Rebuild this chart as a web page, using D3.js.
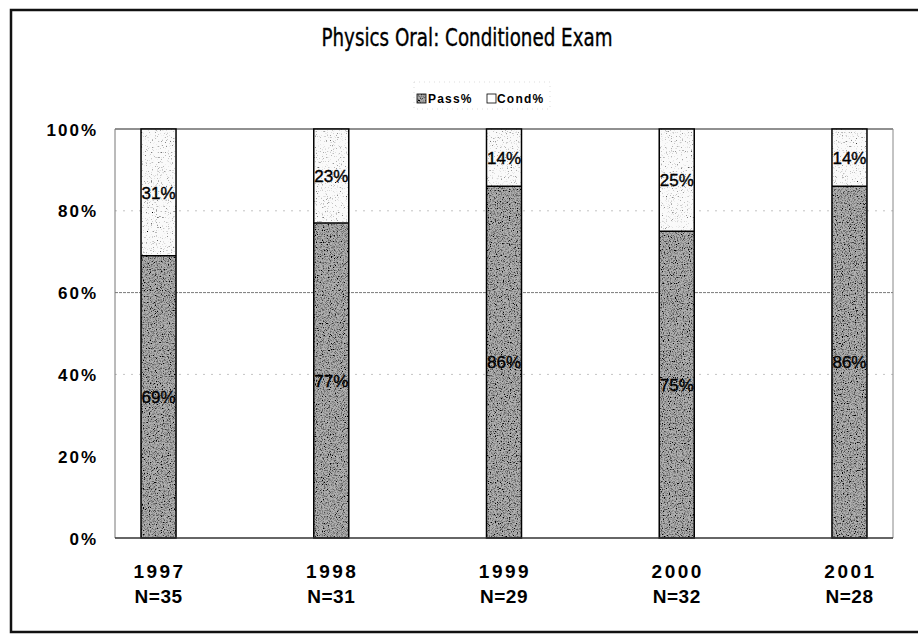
<!DOCTYPE html>
<html>
<head>
<meta charset="utf-8">
<script src="https://cdn.jsdelivr.net/npm/d3@7"></script>
<style>
  body { margin: 0; background: #fff; }
  text { font-family: "Liberation Sans", Arial, sans-serif; }
</style>
</head>
<body>
<svg id="chart"></svg>
<script>
const years = ["1997", "1998", "1999", "2000", "2001"]
const counts = ["N=35", "N=31", "N=29", "N=32", "N=28"]
const passPct = [69, 77, 86, 75, 86]
const condPct = [31, 23, 14, 25, 14]
const yTicks = [0, 20, 40, 60, 80, 100]
const gridTicks = [40, 60, 80]

const width = 918, height = 636
const plot = {left: 115, right: 893, top: 129, bottom: 538}

const svg = d3.select("#chart")
  .attr("width", width)
  .attr("height", height)

// grainy fills, like the scanned original
const defs = svg.append("defs")
function grain(id, freq, seed, a, b) {
  const f = defs.append("filter").attr("id", id)
    .attr("x", 0).attr("y", 0).attr("width", 1).attr("height", 1)
  f.append("feTurbulence").attr("type", "fractalNoise")
    .attr("baseFrequency", freq).attr("numOctaves", 2).attr("seed", seed).attr("result", "noise")
  f.append("feColorMatrix").attr("in", "noise").attr("type", "matrix")
    .attr("values", `0 0 0 0 0  0 0 0 0 0  0 0 0 0 0  0 0 0 ${a} ${b}`)
    .attr("result", "dots")
  f.append("feComposite").attr("in", "dots").attr("in2", "SourceGraphic").attr("operator", "atop")
}
grain("grainDark", 0.85, 3, -3.2, 1.8)
grain("grainLight", 0.8, 7, -4, 1.55)

// outer frame (right edge is cut off in the scan)
svg.append("path")
  .attr("d", `M${width + 5},10 H11 V632 H${width + 5}`)
  .attr("fill", "none")
  .attr("stroke", "#111")
  .attr("stroke-width", 2.5)

svg.append("text")
  .attr("x", 467).attr("y", 46)
  .attr("text-anchor", "middle")
  .style("font-family", "'Liberation Sans Narrow', 'DejaVu Sans Condensed', sans-serif")
  .style("font-size", "24px")
  .attr("stroke", "#000")
  .attr("stroke-width", 0.35)
  .attr("textLength", 291)
  .attr("lengthAdjust", "spacingAndGlyphs")
  .text("Physics Oral: Conditioned Exam")

// legend
const legend = svg.append("g").attr("transform", "translate(417,103)")
legend.append("rect").attr("x", -3).attr("y", -21).attr("width", 136).attr("height", 27)
  .attr("fill", "none").attr("stroke", "#d4d4d4").attr("stroke-width", 0.8).attr("stroke-dasharray", "1,4")
legend.append("rect").attr("x", 0).attr("y", -9).attr("width", 9).attr("height", 9)
  .attr("fill", "#aaa").attr("filter", "url(#grainDark)")
legend.append("rect").attr("x", 0).attr("y", -9).attr("width", 9).attr("height", 9)
  .attr("fill", "none").attr("stroke", "#000").attr("stroke-width", 0.8)
legend.append("text").attr("x", 11).attr("y", 0)
  .style("font-size", "12px").style("font-weight", "bold").style("letter-spacing", "1.2px").text("Pass%")
legend.append("rect").attr("x", 70).attr("y", -9).attr("width", 9).attr("height", 9)
  .attr("fill", "#fff").attr("stroke", "#000").attr("stroke-width", 0.8)
legend.append("text").attr("x", 80).attr("y", 0)
  .style("font-size", "12px").style("font-weight", "bold").style("letter-spacing", "1.2px").text("Cond%")

const x = d3.scalePoint()
  .domain(years)
  .range([plot.left, plot.right])
  .padding(0.252)

const y = d3.scaleLinear()
  .domain([0, 100])
  .range([plot.bottom, plot.top])

const barW = 35

// gridlines
svg.append("g")
  .selectAll("line")
  .data(gridTicks)
  .enter().append("line")
  .attr("x1", plot.left).attr("x2", plot.right)
  .attr("y1", d => y(d)).attr("y2", d => y(d))
  .attr("stroke", d => d === 60 ? "#7a7a7a" : "#c4c4c4")
  .attr("stroke-width", 1)
  .attr("stroke-dasharray", d => d === 60 ? "3,1" : "2,6")

// plot frame
svg.append("line").attr("x1", plot.left).attr("x2", plot.right)
  .attr("y1", plot.top).attr("y2", plot.top).attr("stroke", "#222").attr("stroke-width", 1.2)
svg.append("line").attr("x1", plot.left).attr("x2", plot.left)
  .attr("y1", plot.top).attr("y2", plot.bottom).attr("stroke", "#777")
svg.append("line").attr("x1", plot.right).attr("x2", plot.right)
  .attr("y1", plot.top).attr("y2", plot.bottom).attr("stroke", "#888")

// y axis labels
const yAxis = d3.axisLeft(y).tickValues(yTicks).tickFormat(d => d + "%").tickSize(0).tickPadding(17)
svg.append("g")
  .attr("transform", `translate(${plot.left},0)`)
  .call(yAxis)
  .call(g => g.select(".domain").remove())
  .selectAll("text")
  .style("font-family", "'Liberation Sans', Arial, sans-serif")
  .style("font-size", "17px")
  .style("font-weight", "bold")
  .style("letter-spacing", "2px")
  .attr("fill", "#000")
  .attr("dy", "0.36em")

const rows = years.map((yr, i) => ({year: yr, pass: passPct[i], cond: condPct[i]}))

const bars = svg.append("g")
  .selectAll("g")
  .data(rows)
  .enter().append("g")

bars.append("rect")
  .attr("x", d => x(d.year) - barW / 2)
  .attr("y", d => y(d.pass))
  .attr("width", barW)
  .attr("height", d => y(0) - y(d.pass))
  .attr("fill", "#b0b0b0")
  .attr("filter", "url(#grainDark)")

bars.append("rect")
  .attr("x", d => x(d.year) - barW / 2)
  .attr("y", d => y(d.pass + d.cond))
  .attr("width", barW)
  .attr("height", d => y(d.pass) - y(d.pass + d.cond))
  .attr("fill", "#fafafa")
  .attr("filter", "url(#grainLight)")

// outlines on top
bars.append("rect")
  .attr("x", d => x(d.year) - barW / 2)
  .attr("y", d => y(d.pass + d.cond))
  .attr("width", barW)
  .attr("height", d => y(0) - y(d.pass + d.cond))
  .attr("fill", "none").attr("stroke", "#000").attr("stroke-width", 1.5)
bars.append("line")
  .attr("x1", d => x(d.year) - barW / 2).attr("x2", d => x(d.year) + barW / 2)
  .attr("y1", d => y(d.pass)).attr("y2", d => y(d.pass))
  .attr("stroke", "#000").attr("stroke-width", 1.5)

// value labels
const valueLabel = sel => sel
  .attr("x", d => x(d.year))
  .attr("dy", "0.36em")
  .attr("text-anchor", "middle")
  .style("font-size", "17px")
  .attr("stroke", "#000")
  .attr("stroke-width", 0.4)

bars.append("text")
  .call(valueLabel)
  .attr("y", d => y(d.pass / 2))
  .text(d => d.pass + "%")
bars.append("text")
  .call(valueLabel)
  .attr("y", d => y(d.pass + d.cond / 2))
  .text(d => d.cond + "%")

// bottom axis
svg.append("line")
  .attr("x1", plot.left).attr("x2", plot.right)
  .attr("y1", plot.bottom).attr("y2", plot.bottom)
  .attr("stroke", "#333").attr("stroke-width", 1.5)

const xl = svg.append("g")
  .selectAll("g")
  .data(years)
  .enter().append("g")
  .attr("transform", d => `translate(${x(d)},0)`)
xl.append("text")
  .attr("x", 1)
  .attr("y", 578).attr("text-anchor", "middle")
  .style("font-size", "19px").style("font-weight", "bold").style("letter-spacing", "2.5px")
  .text(d => d)
xl.append("text")
  .attr("y", 603).attr("text-anchor", "middle")
  .style("font-size", "19px").style("font-weight", "bold").style("letter-spacing", "0.5px")
  .text((d, i) => counts[i])
</script>
</body>
</html>
